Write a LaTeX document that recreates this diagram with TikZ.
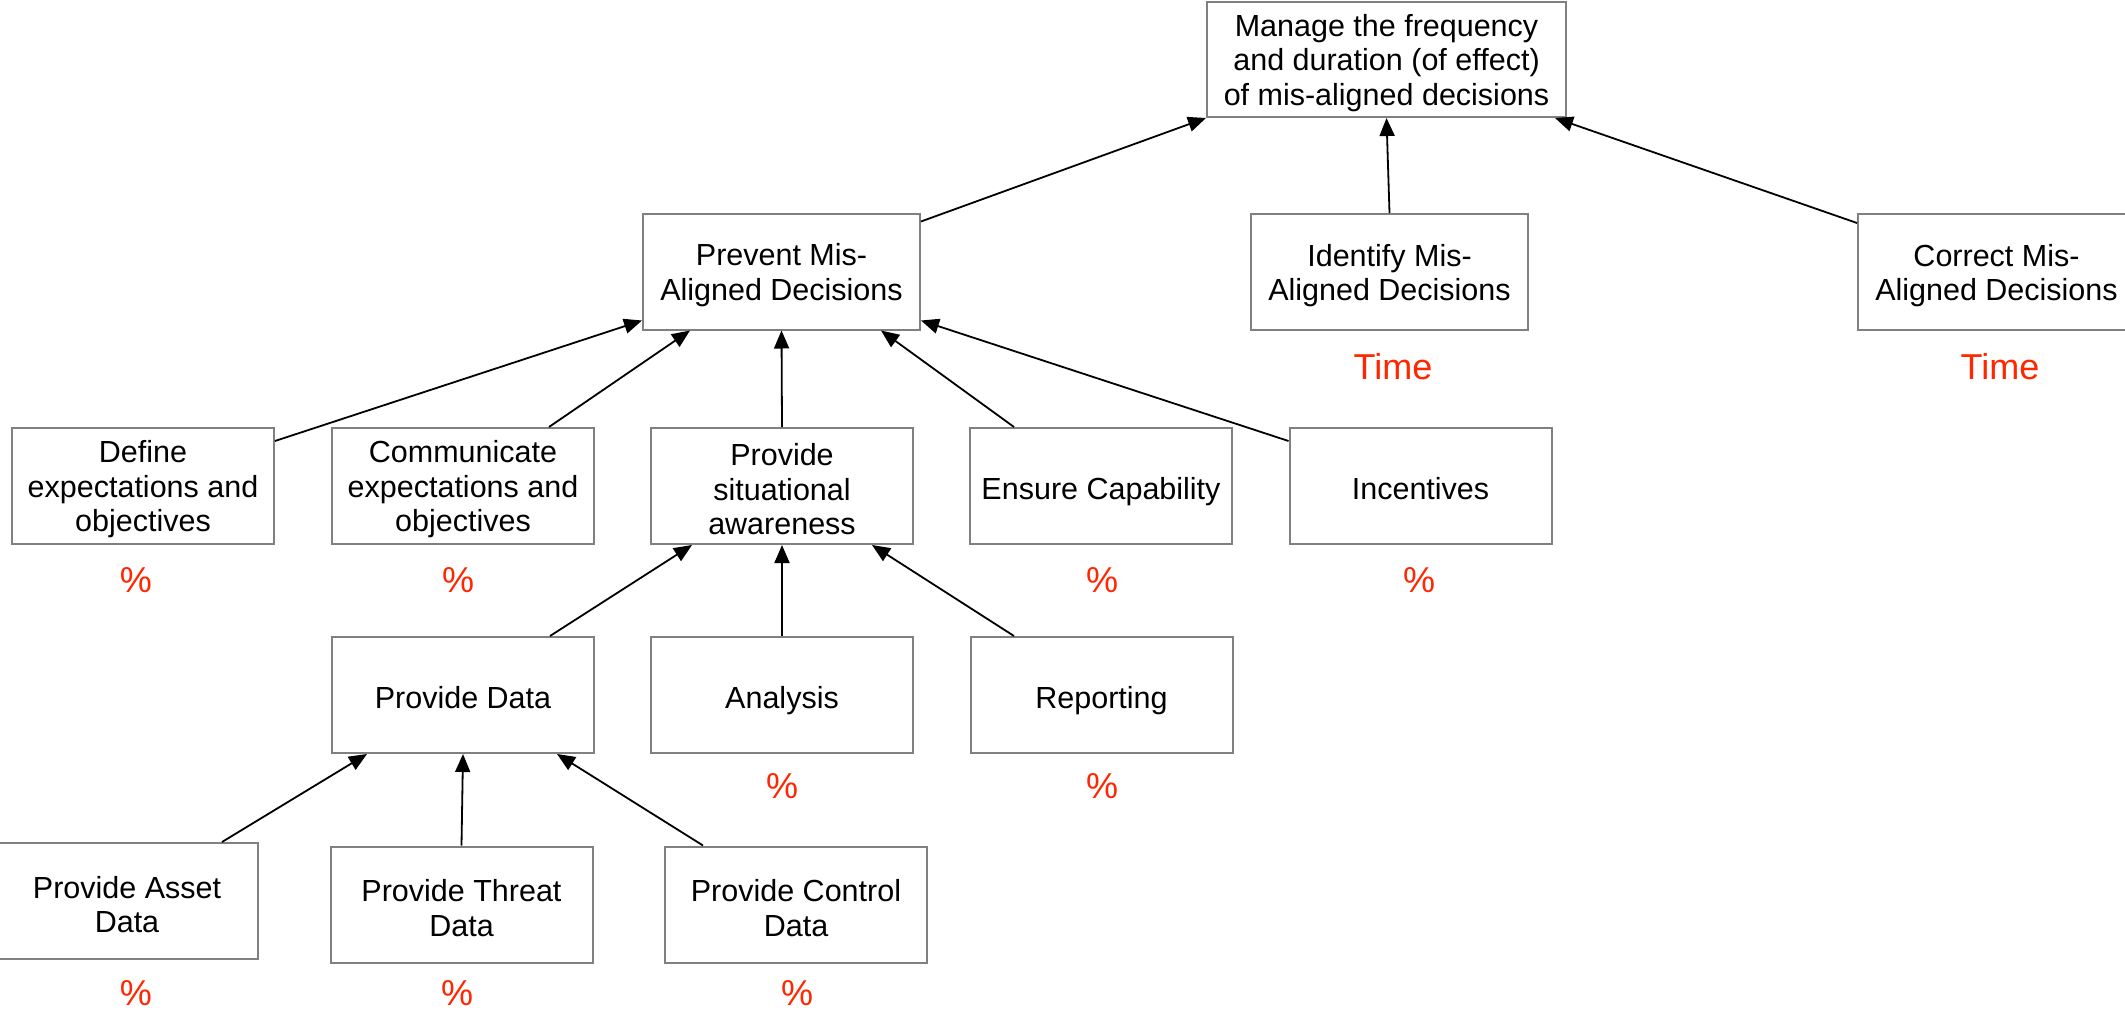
\documentclass[tikz,border=0pt]{standalone}
\usepackage{fontspec}
\setmainfont{Liberation Sans}
\usetikzlibrary{arrows.meta,calc}
\definecolor{boxgray}{RGB}{128,128,128}
\definecolor{markred}{RGB}{255,38,0}
% struts that fix the height of a box's first line and the depth of a single line
\newcommand{\boxstrut}{\rule[-8pt]{0pt}{37pt}}
\newcommand{\linestrut}{\rule[-8pt]{0pt}{42pt}}

\begin{document}
\begin{tikzpicture}[x=1pt,y=-1pt,
  box/.style={draw=boxgray, line width=2pt, align=center, inner sep=0pt,
              minimum height=116pt, font=\fontsize{30.5}{34.5}\selectfont},
  wbox/.style={box, minimum width=277pt},
  nbox/.style={box, minimum width=262pt},
  conn/.style={draw=black, line width=1.8pt, -{Triangle[length=18pt,width=15pt]}},
  pct/.style={text=markred, font=\fontsize{36}{40}\selectfont, inner sep=0pt}
]
\useasboundingbox (0,0) rectangle (2125,1009);

% goal
\node[box, minimum width=359pt, minimum height=115pt] (top) at (1386.5,59.5)
  {\boxstrut Manage the frequency\\and duration (of effect)\\of mis-aligned decisions};

% second level
\node[wbox] (prevent)  at (781.5,271.5) {\boxstrut Prevent Mis-\\Aligned Decisions};
\node[wbox] (identify) at (1389.5,272)  {\boxstrut Identify Mis-\\Aligned Decisions};
\node[wbox] (correct)  at (1996.5,272)  {\boxstrut Correct Mis-\\Aligned Decisions};

% third level
\node[nbox] (define)      at (143,486)    {\boxstrut Define\\expectations and\\objectives};
\node[nbox] (communicate) at (463,486)    {\boxstrut Communicate\\expectations and\\objectives};
\node[nbox] (situational) at (782,486)    {\boxstrut Provide\\situational\\awareness};
\node[nbox] (ensure)      at (1101,486)   {\linestrut Ensure Capability};
\node[nbox] (incentives)  at (1420.5,486) {\linestrut Incentives};

% fourth level
\node[nbox] (data)      at (463,695)    {\linestrut Provide Data};
\node[nbox] (analysis)  at (782,695)    {\linestrut Analysis};
\node[nbox] (reporting) at (1101.5,695) {\linestrut Reporting};

% fifth level
\node[nbox] (asset)   at (127,901)     {\boxstrut Provide Asset\\Data};
\node[nbox] (threat)  at (461.5,904.5) {\boxstrut Provide Threat\\Data};
\node[nbox] (control) at (796,904.5)   {\boxstrut Provide Control\\Data};

% measures
\node[pct] (tidentify)    at (1393,367) {Time};
\node[pct] (tcorrect)     at (2000,367) {Time};
\node[pct] (pdefine)      at (136,580)  {\%};
\node[pct] (pcommunicate) at (458,580)  {\%};
\node[pct] (pensure)      at (1102,580) {\%};
\node[pct] (pincentives)  at (1419,580) {\%};
\node[pct] (panalysis)    at (782,786)  {\%};
\node[pct] (preporting)   at (1102,786) {\%};
\node[pct] (passet)       at (136,993)  {\%};
\node[pct] (pthreat)      at (457,993)  {\%};
\node[pct] (pcontrol)     at (797,993)  {\%};

% connectors to the goal
\draw[conn] ($(prevent.north east)+(0,9)$) -- (top.south west);
\draw[conn] (identify.north) -- (top.south);
\draw[conn] ($(correct.north west)+(0,10)$) -- ($(top.south east)+(-12,0)$);

% connectors to prevention
\draw[conn] ($(define.north east)+(0,14)$) -- ($(prevent.south west)+(0,-10)$);
\draw[conn] ($(communicate.north)+(86,0)$) -- ($(prevent.south)+(-91.5,0)$);
\draw[conn] (situational.north) -- (prevent.south);
\draw[conn] ($(ensure.north)+(-87,0)$) -- ($(prevent.south)+(99.5,0)$);
\draw[conn] ($(incentives.north west)+(0,14)$) -- ($(prevent.south east)+(0,-10)$);

% connectors to situational awareness
\draw[conn] ($(data.north)+(87,0)$) -- ($(situational.south)+(-90,0)$);
\draw[conn] (analysis.north) -- (situational.south);
\draw[conn] ($(reporting.north)+(-87.5,0)$) -- ($(situational.south)+(90,0)$);

% connectors to data
\draw[conn] ($(asset.north)+(95,0)$) -- ($(data.south)+(-96,0)$);
\draw[conn] (threat.north) -- (data.south);
\draw[conn] ($(control.north)+(-93,0)$) -- ($(data.south)+(94,0)$);
\end{tikzpicture}
\end{document}
